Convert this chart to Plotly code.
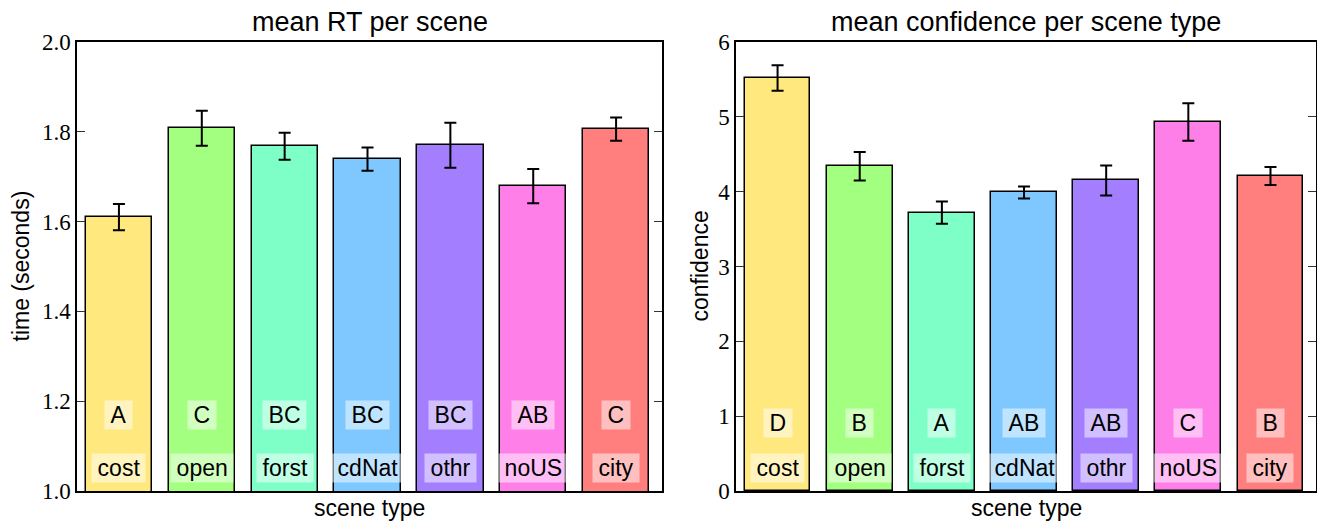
import plotly.graph_objects as go

# Scene categories and bar colours
scenes = ["cost", "open", "forst", "cdNat", "othr", "noUS", "city"]
colors = ["#FFE97F", "#A3FF7F", "#7FFFC8", "#7FC8FF", "#A37FFF", "#FF7FE9", "#FF7F7F"]

# Mean reaction time (seconds) with error half-widths
rt_mean = [1.610, 1.808, 1.768, 1.739, 1.770, 1.679, 1.806]
rt_err = [0.029, 0.039, 0.030, 0.026, 0.050, 0.038, 0.026]
rt_groups = ["A", "C", "BC", "BC", "BC", "AB", "C"]

# Mean confidence with error half-widths
conf_mean = [5.52, 4.34, 3.72, 3.99, 4.15, 4.93, 4.21]
conf_err = [0.17, 0.19, 0.15, 0.08, 0.20, 0.25, 0.12]
conf_groups = ["D", "B", "A", "AB", "AB", "C", "B"]

rt_ticks = [1.0, 1.2, 1.4, 1.6, 1.8, 2.0]
conf_ticks = [0, 1, 2, 3, 4, 5, 6]

W, H = 1317, 522
L1, R1 = 77, 662      # left panel pixel edges
L2, R2 = 736, 1316    # right panel pixel edges
TOP, BOT = 42, 491
xs = list(range(len(scenes)))

fig = go.Figure()

def add_bars(values, errs, xa, ya):
    fig.add_trace(go.Bar(
        x=xs, y=values, width=0.8, xaxis=xa, yaxis=ya,
        marker=dict(color=colors, line=dict(color="black", width=1.5)),
        error_y=dict(type="data", array=errs, color="black", thickness=2, width=6),
        showlegend=False, hoverinfo="skip",
    ))

add_bars(rt_mean, rt_err, "x", "y")
add_bars(conf_mean, conf_err, "x2", "y2")

sans = "Liberation Sans, Arial, sans-serif"
tick_font = dict(family="Liberation Serif, DejaVu Serif, serif", size=23, color="black")
label_font = dict(family=sans, size=23, color="black")
title_font = dict(family=sans, size=27, color="black")

ydom = [1 - BOT / H, 1 - TOP / H]
xaxis_common = dict(
    range=[-0.506, 6.554], showticklabels=False, ticks="", showgrid=False, automargin=False,
    zeroline=False, showline=True, linecolor="black", linewidth=1.5, mirror=True,
)
yaxis_common = dict(
    ticks="inside", ticklen=8, tickwidth=1, tickcolor="#333", showgrid=False, automargin=False,
    zeroline=False, showline=True, linecolor="black", linewidth=1.5, mirror="ticks",
    tickfont=tick_font,
)

fig.update_layout(
    width=W, height=H, margin=dict(l=0, r=0, t=0, b=0),
    paper_bgcolor="white", plot_bgcolor="white", bargap=0,
    xaxis=dict(domain=[L1 / W, R1 / W], anchor="y", **xaxis_common),
    yaxis=dict(domain=ydom, anchor="x", range=[1.0, 2.0], tickvals=rt_ticks,
               ticktext=[f"{t:.1f}" for t in rt_ticks], **yaxis_common),
    xaxis2=dict(domain=[L2 / W, R2 / W], anchor="y2", **xaxis_common),
    yaxis2=dict(domain=ydom, anchor="x2", range=[0, 6], tickvals=conf_ticks,
                ticktext=[str(t) for t in conf_ticks], **yaxis_common),
)

def paper_text(text, px, py, font, angle=0):
    return dict(text=text, x=px / W, y=1 - py / H, xref="paper", yref="paper",
                showarrow=False, font=font, xanchor="center", yanchor="middle",
                textangle=angle)

annotations = [
    paper_text("mean RT per scene", (L1 + R1) / 2, 22, title_font),
    paper_text("mean confidence per scene type", (L2 + R2) / 2, 22, title_font),
    paper_text("scene type", (L1 + R1) / 2, 508, label_font),
    paper_text("scene type", (L2 + R2) / 2, 508, label_font),
    paper_text("time (seconds)", 20, (TOP + BOT) / 2, label_font, -90),
    paper_text("confidence", 699, (TOP + BOT) / 2, label_font, -90),
]

# translucent white label boxes, padded a little wider than tall
box = dict(showarrow=False, font=label_font, bgcolor="rgba(255,255,255,0.5)", borderpad=1,
           xanchor="center", yanchor="middle")
pad = "\u2009"
for i, s in enumerate(scenes):
    annotations.append(dict(text=pad + rt_groups[i] + pad, x=i, y=1.169, xref="x", yref="y", **box))
    annotations.append(dict(text=pad + s + pad, x=i, y=1.052, xref="x", yref="y", **box))
    annotations.append(dict(text=pad + conf_groups[i] + pad, x=i, y=0.915, xref="x2", yref="y2", **box))
    annotations.append(dict(text=pad + s + pad, x=i, y=0.314, xref="x2", yref="y2", **box))

fig.update_layout(annotations=annotations)
fig.write_html("out.html")
